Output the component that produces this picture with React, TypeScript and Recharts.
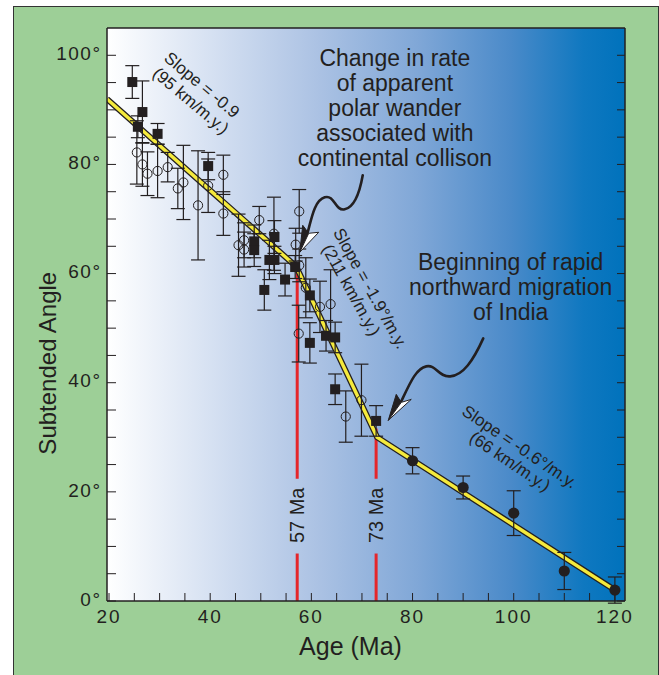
import React from "react"
import {
  ComposedChart,
  Scatter,
  Line,
  XAxis,
  YAxis,
  CartesianGrid,
  ErrorBar,
  ReferenceLine,
  ReferenceDot,
  Label,
} from "recharts"

const INK = "#231f20"
const GREEN = "#9dcf97"
const YELLOW = "#f5ea3c"
const RED = "#e5262b"
const FONT = '"Liberation Sans", Arial, Helvetica, sans-serif'

// filled squares
const squareAge = [24.6, 25.7, 26.6, 29.6, 39.6, 48.7, 48.7, 50.7, 51.7, 52.7, 52.7, 54.8, 56.8, 59.7, 59.7, 62.9, 64.7, 64.7, 72.8]
const squareAngle = [95.1, 86.9, 89.6, 85.6, 79.7, 65.9, 64.3, 57.0, 62.5, 62.5, 66.7, 58.9, 61.2, 56.0, 47.3, 48.6, 48.3, 38.8, 33.0]
const squareErr = [3.0, 2.0, 5.7, 1.9, 2.5, 3.0, 3.0, 3.7, 3.6, 2.5, 3.0, 3.0, 2.1, 3.0, 3.7, 2.8, 2.8, 2.8, 2.8]

// open circles
const openAge = [25.5, 26.6, 27.6, 29.6, 31.6, 33.6, 34.7, 37.6, 39.6, 42.6, 42.6, 45.6, 46.7, 46.7, 49.7, 52.6, 56.9, 57.6, 57.6, 57.5, 58.9, 61.7, 63.8, 66.8, 69.9]
const openAngle = [82.2, 80.0, 78.3, 78.8, 79.5, 75.6, 76.7, 72.5, 76.1, 78.1, 71.0, 65.2, 66.1, 64.4, 69.8, 67.3, 65.3, 71.4, 61.5, 49.0, 57.4, 53.9, 54.4, 33.8, 36.8]
const openErr = [5.8, 4.0, 4.0, 4.9, 2.7, 3.7, 6.8, 10.0, 4.9, 3.6, 4.0, 5.7, 3.2, 3.2, 2.5, 6.7, 3.0, 4.0, 3.0, 5.2, 5.5, 4.7, 6.3, 4.7, 6.6]

// filled circles
const dotAge = [80, 90, 100, 110, 120]
const dotAngle = [25.7, 20.8, 16.1, 5.5, 2.0]
const dotErr = [2.4, 2.1, 4.1, 3.4, 2.4]

// three-segment fit
const fitAge = [19.6, 57, 73, 120]
const fitAngle = [92.0, 61.3, 30.0, 2.0]

const xTicks = [20, 25, 30, 35, 40, 45, 50, 55, 60, 65, 70, 75, 80, 85, 90, 95, 100, 105, 110, 115, 120]
const yTicks = [0, 5, 10, 15, 20, 25, 30, 35, 40, 45, 50, 55, 60, 65, 70, 75, 80, 85, 90, 95, 100]

const squares = squareAge.map((x, i) => ({ x, y: squareAngle[i], err: squareErr[i] }))
const opens = openAge.map((x, i) => ({ x, y: openAngle[i], err: openErr[i] }))
const dots = dotAge.map((x, i) => ({ x, y: dotAngle[i], err: dotErr[i] }))
const fit = fitAge.map((x, i) => ({ x, y: fitAngle[i] }))

const Square = (p: any) => <rect x={p.cx - 5} y={p.cy - 5} width={10} height={10} fill={INK} />
const OpenCircle = (p: any) => <circle cx={p.cx} cy={p.cy} r={4.6} fill="none" stroke={INK} strokeWidth={1} />
const Dot = (p: any) => <circle cx={p.cx} cy={p.cy} r={5.6} fill={INK} />

// text drawn at a data anchor, optionally rotated
const caption = (lines: string[], size: number, angle = 0, gap = 0) => (p: any) => (
  <text
    transform={`translate(${p.cx} ${p.cy}) rotate(${angle})`}
    textAnchor="middle"
    fontSize={size}
    fontFamily={FONT}
    fill={INK}
  >
    {lines.map((t, i) => (
      <tspan key={i} x={0} y={i * gap} dy="0.35em">
        {t}
      </tspan>
    ))}
  </text>
)

// squiggly pointer, tip at the anchor
const pointer = (path: string, barbL: number[], notch: number[], barbR: number[]) => (p: any) => (
  <g transform={`translate(${p.cx} ${p.cy})`}>
    <path d={path} fill="none" stroke={INK} strokeWidth={2.6} strokeLinecap="round" />
    <polygon points={`0,0 ${barbL.join(",")} ${notch.join(",")}`} fill={INK} stroke={INK} strokeWidth={1} />
    <polygon points={`0,0 ${notch.join(",")} ${barbR.join(",")}`} fill="#fff" stroke={INK} strokeWidth={1} />
  </g>
)

const AgeLabel = (p: any) => {
  const vb = p.viewBox || { x: 93, y: 594, width: 518, height: 60 }
  return (
    <text x={vb.x + vb.width * 0.47} y={vb.y + 54} textAnchor="middle" fontSize={25} fontFamily={FONT} fill={INK}>
      Age (Ma)
    </text>
  )
}

const AngleLabel = (p: any) => {
  const vb = p.viewBox || { x: 33, y: 21, width: 60, height: 573 }
  const x = vb.x + 9
  const y = vb.y + vb.height * 0.585
  return (
    <text x={x} y={y} transform={`rotate(-90 ${x} ${y})`} textAnchor="middle" fontSize={24} fontFamily={FONT} fill={INK}>
      Subtended Angle
    </text>
  )
}

const AngleTick = (p: any) => {
  const v = p.payload?.value
  if (v % 20 !== 0) return <g />
  return (
    <text x={p.x} y={p.y - 2} dy="0.35em" textAnchor="end" fontSize={19} fontFamily={FONT} fill={INK}>
      <tspan letterSpacing={1.5}>{v}</tspan>
      <tspan>°</tspan>
    </text>
  )
}

const tickStyle = { fill: INK, fontSize: 19, fontFamily: FONT, letterSpacing: 2 }
const frame = { stroke: INK, strokeWidth: 1.5 }

export default function App() {
  return (
    <div
      style={{
        position: "absolute",
        left: 13,
        top: 6,
        width: 644,
        height: 680,
        background: GREEN,
        borderLeft: "1px solid #333",
        borderTop: "1px solid #333",
        borderRight: "1px solid #333",
      }}
    >
      <ComposedChart width={644} height={668} margin={{ top: 19, right: 31, bottom: 14, left: 33 }}>
        <defs>
          <linearGradient id="bg" x1="0" y1="0" x2="1" y2="0">
            <stop offset="0" stopColor="#ffffff" />
            <stop offset="0.2" stopColor="#d6e1f2" />
            <stop offset="0.4" stopColor="#adc3e4" />
            <stop offset="0.6" stopColor="#80a7d7" />
            <stop offset="0.78" stopColor="#4a8ac9" />
            <stop offset="0.92" stopColor="#0f78c0" />
            <stop offset="1" stopColor="#0072bc" />
          </linearGradient>
        </defs>
        <CartesianGrid fill="url(#bg)" horizontal={false} vertical={false} />
        <XAxis
          dataKey="x"
          type="number"
          domain={[19.6, 122]}
          ticks={xTicks}
          interval={0}
          allowDataOverflow
          tickFormatter={(v: number) => (v % 20 === 0 ? String(v) : "")}
          tickSize={-8}
          tickMargin={17}
          height={60}
          axisLine={frame}
          tickLine={{ stroke: INK, strokeWidth: 1 }}
          tick={tickStyle}
        >
          <Label content={AgeLabel} />
        </XAxis>
        <XAxis
          xAxisId="top"
          orientation="top"
          type="number"
          domain={[19.6, 122]}
          ticks={xTicks}
          interval={0}
          allowDataOverflow
          tickFormatter={() => ""}
          tickSize={-8}
          height={2}
          axisLine={frame}
          tickLine={{ stroke: INK, strokeWidth: 1 }}
        />
        <YAxis
          dataKey="y"
          type="number"
          domain={[0, 105]}
          ticks={yTicks}
          interval={0}
          allowDataOverflow
          tickSize={-9}
          tickMargin={16}
          width={60}
          axisLine={frame}
          tickLine={{ stroke: INK, strokeWidth: 1 }}
          tick={AngleTick}
        >
          <Label content={AngleLabel} />
        </YAxis>
        <YAxis
          yAxisId="right"
          orientation="right"
          type="number"
          domain={[0, 105]}
          ticks={yTicks}
          interval={0}
          allowDataOverflow
          tickFormatter={() => ""}
          tickSize={-8}
          width={2}
          axisLine={frame}
          tickLine={{ stroke: INK, strokeWidth: 1 }}
        />

        <ReferenceLine segment={[{ x: 57.2, y: 0 }, { x: 57.2, y: 8.7 }]} stroke={RED} strokeWidth={3} />
        <ReferenceLine segment={[{ x: 57.2, y: 22.4 }, { x: 57.2, y: 61.5 }]} stroke={RED} strokeWidth={3} />
        <ReferenceLine segment={[{ x: 72.8, y: 0 }, { x: 72.8, y: 8.7 }]} stroke={RED} strokeWidth={3} />
        <ReferenceLine segment={[{ x: 72.8, y: 22.4 }, { x: 72.8, y: 31.6 }]} stroke={RED} strokeWidth={3} />

        <Line data={fit} dataKey="y" stroke={INK} strokeWidth={6} dot={false} activeDot={false} isAnimationActive={false} />
        <Line data={fit} dataKey="y" stroke={YELLOW} strokeWidth={3.4} dot={false} activeDot={false} isAnimationActive={false} />

        <Scatter data={opens} shape={OpenCircle} isAnimationActive={false}>
          <ErrorBar dataKey="err" direction="y" width={7} stroke={INK} strokeWidth={1.2} />
        </Scatter>
        <Scatter data={squares} shape={Square} isAnimationActive={false}>
          <ErrorBar dataKey="err" direction="y" width={7} stroke={INK} strokeWidth={1.2} />
        </Scatter>
        <Scatter data={dots} shape={Dot} isAnimationActive={false}>
          <ErrorBar dataKey="err" direction="y" width={7} stroke={INK} strokeWidth={1.2} />
        </Scatter>

        <ReferenceDot x={57.2} y={15.7} r={0} shape={caption(["57 Ma"], 20, -90)} />
        <ReferenceDot x={72.8} y={15.7} r={0} shape={caption(["73 Ma"], 20, -90)} />

        <ReferenceDot x={38.4} y={94.6} r={0} shape={caption(["Slope = -0.9"], 17, 40)} />
        <ReferenceDot x={36.2} y={91.7} r={0} shape={caption(["(95 km/m.y.)"], 17, 40)} />
        <ReferenceDot x={71.7} y={57.3} r={0} shape={caption(["Slope = -1.9°/m.y."], 17, 61)} />
        <ReferenceDot x={67.9} y={57.0} r={0} shape={caption(["(211 km/m.y.)"], 17, 61)} />
        <ReferenceDot x={101.2} y={28.3} r={0} shape={caption(["Slope = -0.6°/m.y."], 17, 34)} />
        <ReferenceDot x={99.3} y={25.6} r={0} shape={caption(["(66 km/m.y.)"], 17, 34)} />

        <ReferenceDot
          x={76.5}
          y={99.6}
          r={0}
          shape={caption(["Change in rate", "of apparent", "polar wander", "associated with", "continental collison"], 23, 0, 25)}
        />
        <ReferenceDot
          x={99.4}
          y={62.1}
          r={0}
          shape={caption(["Beginning of rapid", "northward migration", "of India"], 23, 0, 25)}
        />

        <ReferenceDot
          x={57.7}
          y={63.9}
          r={0}
          shape={pointer("M63,-77 C60,-60 55,-45 45,-43 C35,-41 35,-58 25,-55 C15,-52 12,-35 8,-20", [3, -27], [9, -19], [19, -20])}
        />
        <ReferenceDot
          x={75.2}
          y={33.1}
          r={0}
          shape={pointer("M95,-82 C85,-60 75,-45 62,-44 C50,-43 48,-56 38,-54 C28,-52 22,-38 13,-19", [8, -26], [13, -18], [23, -21])}
        />
      </ComposedChart>
    </div>
  )
}
